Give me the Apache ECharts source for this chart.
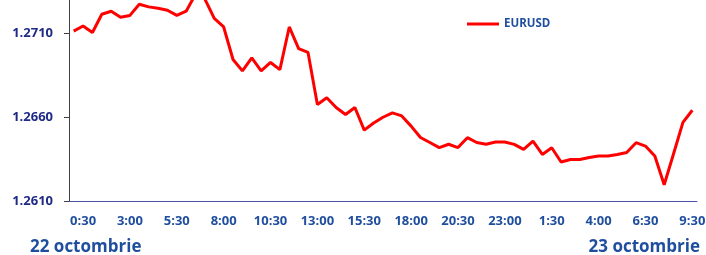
<!DOCTYPE html>
<html>
<head>
<meta charset="utf-8">
<script src="https://cdn.jsdelivr.net/npm/echarts@6/dist/echarts.min.js"></script>
<style>
  html, body { margin: 0; padding: 0; background: #fff; }
  #chart { width: 706px; height: 255px; }
</style>
</head>
<body>
<div id="chart"></div>
<script>
// half-hourly quotes, 22 -> 23 October
const times = [
  '0:00', '0:30', '1:00', '1:30', '2:00', '2:30', '3:00', '3:30', '4:00', '4:30',
  '5:00', '5:30', '6:00', '6:30', '7:00', '7:30', '8:00', '8:30', '9:00', '9:30',
  '10:00', '10:30', '11:00', '11:30', '12:00', '12:30', '13:00', '13:30', '14:00', '14:30',
  '15:00', '15:30', '16:00', '16:30', '17:00', '17:30', '18:00', '18:30', '19:00', '19:30',
  '20:00', '20:30', '21:00', '21:30', '22:00', '22:30', '23:00', '23:30', '0:00', '0:30',
  '1:00', '1:30', '2:00', '2:30', '3:00', '3:30', '4:00', '4:30', '5:00', '5:30',
  '6:00', '6:30', '7:00', '7:30', '8:00', '9:00', '9:30'
];

const eurusd = [
  1.27114, 1.27145, 1.27106, 1.27215, 1.27233, 1.27197, 1.27208, 1.27275, 1.27259, 1.27251,
  1.27239, 1.27208, 1.27233, 1.27335, 1.27305, 1.27190, 1.27139, 1.26945, 1.26877, 1.26954,
  1.26877, 1.26927, 1.26884, 1.27139, 1.27010, 1.26987, 1.26676, 1.26716, 1.26658, 1.26616,
  1.26658, 1.26523, 1.26566, 1.26600, 1.26626, 1.26608, 1.26547, 1.26479, 1.26449, 1.26419,
  1.26439, 1.26419, 1.26478, 1.26449, 1.26439, 1.26452, 1.26452, 1.26438, 1.26408, 1.26457,
  1.26378, 1.26418, 1.26333, 1.26348, 1.26348, 1.26360, 1.26369, 1.26369, 1.26378, 1.26390,
  1.26448, 1.26428, 1.26369, 1.26197, 1.26382, 1.26569, 1.26642
];

const dayLabels = ['22 octombrie', '23 octombrie'];

const navy = '#1f2a85';
const blue = '#1f4e9e';
const font = '"Open Sans", "Noto Sans", sans-serif';

const chart = echarts.init(document.getElementById('chart'));

chart.setOption({
  animation: false,
  grid: { left: 69, right: 9, top: 0, bottom: 54, outerBoundsMode: 'none' },
  legend: {
    data: ['EURUSD'],
    left: 462,
    top: 13,
    icon: 'rect',
    itemWidth: 32,
    itemHeight: 3,
    itemGap: 4,
    textStyle: { color: blue, fontWeight: 'bold', fontSize: 11.5, fontFamily: font }
  },
  xAxis: {
    type: 'category',
    data: times,
    boundaryGap: true,
    axisLine: { lineStyle: { color: '#4a55a2', width: 1 } },
    axisTick: { show: false },
    axisLabel: {
      interval: (i) => i % 5 === 1,
      margin: 14,
      color: blue,
      fontWeight: 'bold',
      fontSize: 13,
      fontFamily: font
    },
    splitLine: { show: false }
  },
  yAxis: {
    type: 'value',
    min: 1.261,
    max: 1.273,
    interval: 0.005,
    axisLine: { show: true, lineStyle: { color: '#404040', width: 1 } },
    axisTick: { show: true, length: 5, lineStyle: { color: '#404040' } },
    axisLabel: {
      showMaxLabel: false,
      margin: 16,
      color: navy,
      fontWeight: 'bold',
      fontSize: 13,
      fontFamily: font,
      formatter: (v) => v.toFixed(4)
    },
    splitLine: { show: false }
  },
  graphic: [
    {
      type: 'text', left: 30, top: 239,
      style: { text: dayLabels[0], fill: blue, font: 'bold 17px ' + font }
    },
    {
      type: 'text', right: 6, top: 239,
      style: { text: dayLabels[1], fill: blue, font: 'bold 17px ' + font }
    }
  ],
  series: [
    {
      name: 'EURUSD',
      type: 'line',
      data: eurusd,
      symbol: 'none',
      clip: true,
      itemStyle: { color: '#ff0000' },
      lineStyle: { color: '#ff0000', width: 3 }
    }
  ]
});
</script>
</body>
</html>
